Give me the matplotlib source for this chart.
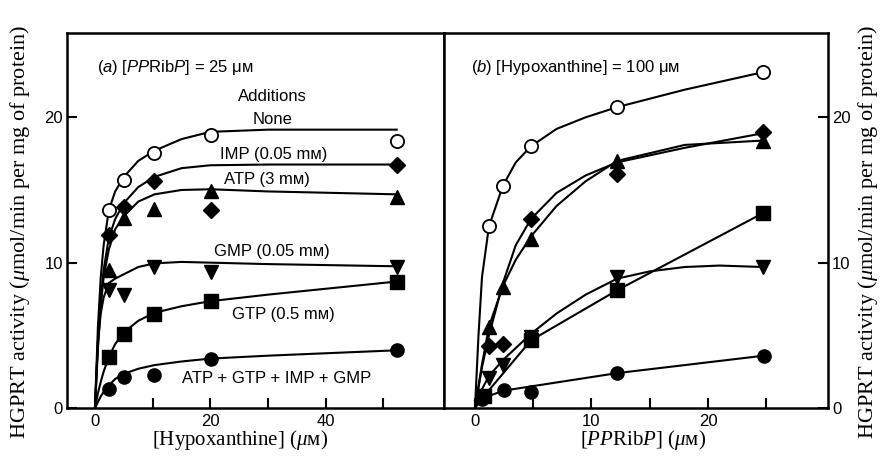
import numpy as np
import matplotlib
matplotlib.use('Agg')
import matplotlib.pyplot as plt

plt.rcParams['font.family'] = ['Liberation Sans', 'DejaVu Sans']
plt.rcParams['mathtext.fontset'] = 'custom'
plt.rcParams['mathtext.it'] = 'Liberation Sans:italic'
plt.rcParams['mathtext.rm'] = 'Liberation Sans'
plt.rcParams['mathtext.cal'] = 'Liberation Serif:italic'

#%% data, panel (a): activity vs [hypoxanthine]
hx_x = [2.4, 5.0, 10.3, 20.1, 52.3]
hx_none = [13.6, 15.7, 17.55, 18.8, 18.4]
hx_imp = [11.9, 13.8, 15.6, 13.6, 16.7]
hx_atp = [9.5, 13.1, 13.7, 14.9, 14.5]
hx_gmp = [8.1, 7.75, 9.7, 9.35, 9.7]
hx_gtp = [3.5, 5.1, 6.5, 7.35, 8.7]
hx_all = [1.28, 2.15, 2.26, 3.4, 3.97]

# hand drawn curves of panel (a)
ca_x = [0, 0.5, 1, 1.5, 2.4, 3.5, 5, 7.5, 10.3, 15, 20, 30, 52.3]
ca_none = [0, 5.5, 9.0, 11.2, 13.6, 14.9, 15.9, 17.0, 17.7, 18.5, 19.0, 19.15, 19.15]
ca_imp = [0, 4.5, 7.5, 9.5, 11.7, 13.0, 14.1, 15.2, 15.9, 16.5, 16.7, 16.75, 16.75]
ca_atp = [0, 4.0, 7.0, 9.0, 10.9, 12.3, 13.2, 14.2, 14.7, 15.0, 15.05, 14.9, 14.7]
ca_gmp = [0, 4.5, 6.5, 7.6, 8.6, 8.9, 9.2, 9.7, 9.95, 10.05, 10.0, 9.9, 9.75]
ca_gtp = [0, 1.0, 1.8, 2.5, 3.5, 4.4, 5.2, 6.0, 6.55, 7.0, 7.35, 7.8, 8.7]
ca_all = [0, 0.4, 0.8, 1.1, 1.55, 2.0, 2.35, 2.7, 2.95, 3.2, 3.4, 3.6, 3.97]

#%% data, panel (b): activity vs [PPRibP]
pp_x = [1.2, 2.4, 4.8, 12.2, 24.7]
pp_none = [12.5, 15.3, 18.0, 20.7, 23.1]
pp_imp = [4.3, 4.4, 13.0, 16.1, 19.0]
pp_atp = [5.6, 8.3, 11.6, 17.0, 18.4]
pp_gmp = [2.05, 2.95, 4.9, 9.0, 9.7]
pp_gtp_x = [0.75, 4.8, 12.2, 24.7]
pp_gtp = [0.8, 4.65, 8.1, 13.4]
pp_all_x = [0.6, 2.5, 4.85, 12.2, 24.8]
pp_all = [0.6, 1.23, 1.1, 2.4, 3.6]

# hand drawn curves of panel (b)
cb_x = [0, 0.3, 0.6, 1.2, 2.4, 3.5, 4.8, 7, 9.5, 12.2, 18, 24.7]
cb_none = [0, 5.0, 9.0, 12.5, 15.3, 16.9, 18.0, 19.2, 20.0, 20.7, 21.9, 23.1]
cb_imp = [0, 1.4, 2.8, 5.0, 8.6, 11.2, 13.0, 14.8, 16.0, 16.9, 17.9, 18.9]
cb_atp = [0, 1.5, 3.0, 5.6, 8.4, 10.2, 11.8, 13.9, 15.6, 17.0, 18.1, 18.4]
cb_gmp_x = [0, 0.6, 1.2, 2.4, 4.8, 7, 9.5, 12.2, 15, 18, 21, 24.7]
cb_gmp = [0, 1.3, 2.2, 3.3, 5.1, 6.5, 7.8, 8.9, 9.4, 9.7, 9.8, 9.7]
cb_gtp_x = [0, 0.75, 4.8, 12.2, 24.7]
cb_gtp = [0, 0.8, 4.65, 8.1, 13.4]
cb_all_x = [0, 2.5, 12.2, 24.8]
cb_all = [0.5, 1.2, 2.4, 3.6]

xt_a, xt_a_minor = [0, 20, 40], [10, 30, 50]
xt_b, xt_b_minor = [0, 10, 20], [5, 15, 25]
yt = [0, 10, 20]

mk = dict(ls='none', color='black', zorder=5)
sty = {'none': dict(marker='o', ms=9.5, mfc='white', mec='black', mew=1.3),
       'imp': dict(marker='D', ms=8.5),
       'atp': dict(marker='^', ms=10.5),
       'gmp': dict(marker='v', ms=10.5),
       'gtp': dict(marker='s', ms=9.5),
       'all': dict(marker='o', ms=9.5)}

fig = plt.figure(figsize=(8.87, 4.57), dpi=100)
axa = fig.add_axes([67/887, 49/457, 377/887, 375/457])
axb = fig.add_axes([444/887, 49/457, 384/887, 375/457])

#%% panel a
lw = 1.5
for cy in [ca_none, ca_imp, ca_atp, ca_gmp, ca_gtp, ca_all]:
    axa.plot(ca_x, cy, color='black', lw=lw, zorder=3)
for key, ys in zip(['none', 'imp', 'atp', 'gmp', 'gtp', 'all'],
                   [hx_none, hx_imp, hx_atp, hx_gmp, hx_gtp, hx_all]):
    axa.plot(hx_x, ys, **mk, **sty[key])

axa.set_xlim(-4.85, 60.5)
axa.set_ylim(0, 25.8)
axa.set_xticks(xt_a)
axa.set_xticks(xt_a_minor, minor=True)
axa.set_yticks(yt)

tfs = 12
axa.text(0.35, 23.4, r'($\mathit{a}$) [$\mathit{PP}$Rib$\mathit{P}$] = 25 μᴍ', fontsize=tfs, va='center')
axa.text(30.8, 21.4, 'Additions', fontsize=tfs, ha='center', va='center')
axa.text(30.7, 19.85, 'None', fontsize=tfs, ha='center', va='center')
axa.text(30.9, 17.45, 'IMP (0.05 mᴍ)', fontsize=tfs, ha='center', va='center')
axa.text(29.8, 15.7, 'ATP (3 mᴍ)', fontsize=tfs, ha='center', va='center')
axa.text(30.6, 10.75, 'GMP (0.05 mᴍ)', fontsize=tfs, ha='center', va='center')
axa.text(32.6, 6.4, 'GTP (0.5 mᴍ)', fontsize=tfs, ha='center', va='center')
axa.text(31.5, 2.05, 'ATP + GTP + IMP + GMP', fontsize=tfs, ha='center', va='center')

#%% panel b
for cx, cy in [(cb_x, cb_none), (cb_x, cb_imp), (cb_x, cb_atp), (cb_gmp_x, cb_gmp),
               (cb_gtp_x, cb_gtp), (cb_all_x, cb_all)]:
    axb.plot(cx, cy, color='black', lw=lw, zorder=3)
axb.plot(pp_x, pp_none, **mk, **sty['none'])
axb.plot(pp_x, pp_imp, **mk, **sty['imp'])
axb.plot(pp_x, pp_atp, **mk, **sty['atp'])
axb.plot(pp_x, pp_gmp, **mk, **sty['gmp'])
axb.plot(pp_gtp_x, pp_gtp, **mk, **sty['gtp'])
axb.plot(pp_all_x, pp_all, **mk, **sty['all'])

axb.set_xlim(-2.66, 30.3)
axb.set_ylim(0, 25.8)
axb.set_xticks(xt_b)
axb.set_xticks(xt_b_minor, minor=True)
axb.set_yticks(yt)
axb.yaxis.tick_right()
axb.text(-0.35, 23.4, r'($\mathit{b}$) [Hypoxanthine] = 100 μᴍ', fontsize=tfs, va='center')

for ax in (axa, axb):
    for sp in ax.spines.values():
        sp.set_linewidth(1.8)
    ax.tick_params(which='both', direction='in', length=7, width=1.5, labelsize=12, pad=4)
axa.tick_params(axis='y', pad=3)
axb.tick_params(axis='y', which='both', left=False, right=True, labelright=True, labelleft=False, pad=3)

#%% axis labels (serif)
serif = ['Liberation Serif', 'DejaVu Serif']
ylab = r'HGPRT activity ($\mathcal{μ}$mol/min per mg of protein)'
fig.text(20/887, 1 - 232/457, ylab, rotation=90, ha='center', va='center', fontsize=16, family=serif)
fig.text(868/887, 1 - 232/457, ylab, rotation=90, ha='center', va='center', fontsize=16, family=serif)
fig.text(240/887, 1 - 440/457, r'[Hypoxanthine] ($\mathcal{μ}$ᴍ)', ha='center', va='center', fontsize=15, family=serif)
fig.text(643/887, 1 - 440/457, r'[$\mathcal{PP}$Rib$\mathcal{P}$] ($\mathcal{μ}$ᴍ)', ha='center', va='center', fontsize=15, family=serif)

fig.savefig('out.png', dpi=100)
